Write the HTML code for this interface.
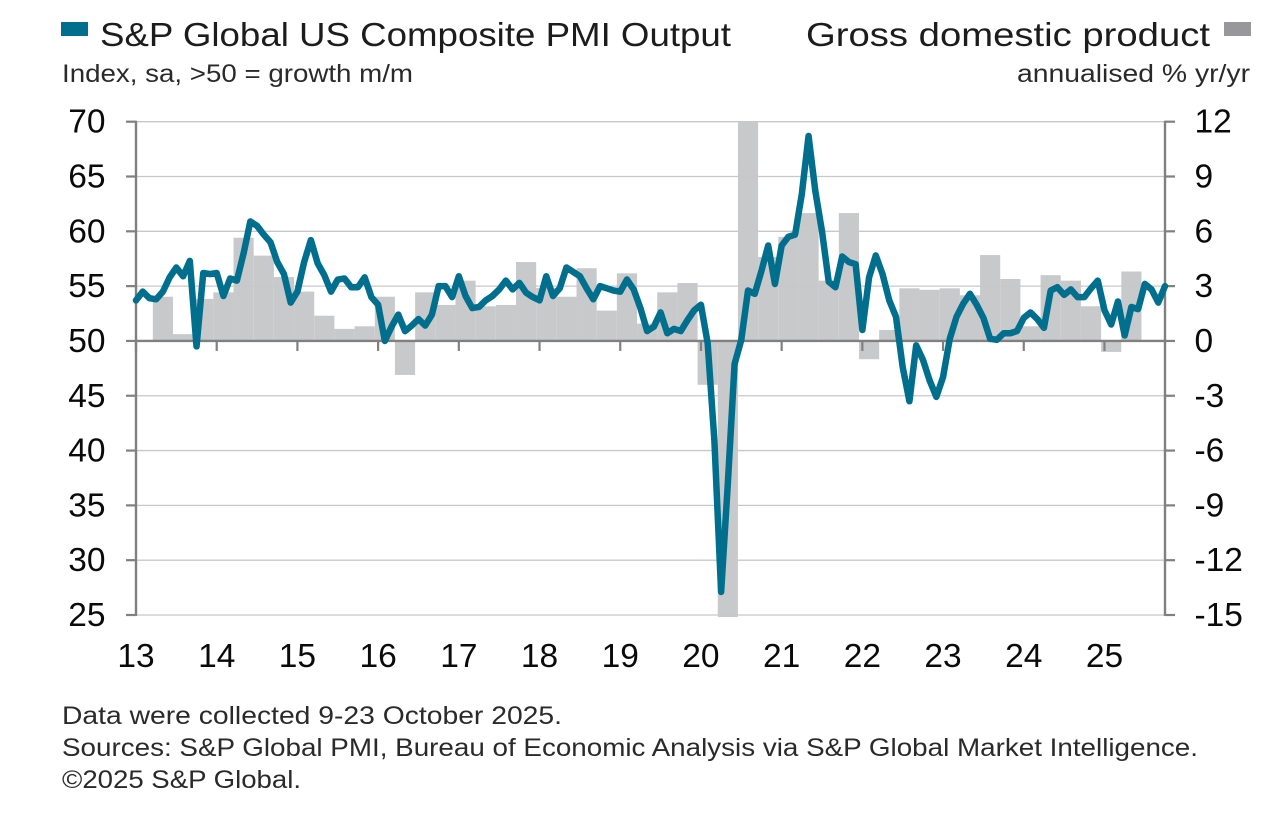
<!DOCTYPE html>
<html lang="en">
<head>
<meta charset="utf-8">
<title>S&amp;P Global US Composite PMI Output and GDP</title>
<style>
html,body{margin:0;padding:0;background:#fff;}
body{width:1286px;height:824px;overflow:hidden;}
svg{display:block;font-family:"Liberation Sans",sans-serif;}
.head{font-size:33px;fill:#1c1c1c;}
.sub{font-size:25px;fill:#2a2a2a;}
.tick{font-size:33.5px;fill:#0a0a0a;}
</style>
</head>
<body>
<svg id="chart" width="1286" height="824" viewBox="0 0 1286 824" xmlns="http://www.w3.org/2000/svg">
  <defs>
    <clipPath id="plot-clip"><rect x="130" y="121.5" width="1040" height="495.5"></rect></clipPath>
  </defs>
  <rect x="61" y="22" width="27" height="14" fill="#006f8e"></rect>
  <text class="head" x="100" y="46" textLength="631" lengthAdjust="spacingAndGlyphs">S&amp;P Global US Composite PMI Output</text>
  <text class="sub" x="62" y="82" textLength="351" lengthAdjust="spacingAndGlyphs">Index, sa, &gt;50 = growth m/m</text>
  <text class="head" x="806" y="46" textLength="404" lengthAdjust="spacingAndGlyphs">Gross domestic product</text>
  <rect x="1224" y="22" width="27" height="14" fill="#98989b"></rect>
  <text class="sub" x="1017" y="82" textLength="233" lengthAdjust="spacingAndGlyphs">annualised % yr/yr</text>
  <g id="bars"></g>
  <g id="grid"></g>
  <g id="axes"></g>
  <g id="series"></g>
  <g id="labels"></g>
  <text class="sub" x="62" y="724" textLength="500" lengthAdjust="spacingAndGlyphs">Data were collected 9-23 October 2025.</text>
  <text class="sub" x="62" y="756" textLength="1136" lengthAdjust="spacingAndGlyphs">Sources: S&amp;P Global PMI, Bureau of Economic Analysis via S&amp;P Global Market Intelligence.</text>
  <text class="sub" x="62" y="788" textLength="239" lengthAdjust="spacingAndGlyphs">©2025 S&amp;P Global.</text>
</svg>
<script>
var pmiValues = [
  53.7,54.5,53.9,53.8,54.5,55.8,56.7,55.9,57.3,49.5,56.2,56.1,
  56.2,54.1,55.7,55.5,58.0,60.9,60.5,59.7,59.0,57.2,56.1,53.5,
  54.5,57.2,59.2,57.1,56.0,54.5,55.6,55.7,54.9,54.9,55.8,54.0,
  53.3,50.0,51.3,52.4,50.9,51.4,52.0,51.4,52.4,55.0,55.0,54.0,
  55.9,54.1,53.0,53.1,53.7,54.1,54.7,55.5,54.7,55.3,54.4,54.0,
  53.7,55.9,54.1,54.8,56.7,56.3,55.9,54.8,53.8,55.0,54.8,54.6,
  54.5,55.6,54.7,53.0,50.9,51.3,52.6,50.7,51.1,50.9,51.9,52.8,
  53.3,49.8,40.9,27.1,37.0,47.9,50.1,54.6,54.3,56.4,58.7,55.2,
  58.7,59.5,59.7,63.4,68.7,63.7,60.0,55.4,54.9,57.7,57.2,57.0,
  51.0,55.8,57.8,56.1,53.7,52.2,47.6,44.5,49.6,48.3,46.4,44.9,
  46.7,50.2,52.2,53.4,54.3,53.3,52.1,50.2,50.1,50.7,50.7,50.9,
  52.1,52.6,52.0,51.2,54.6,54.9,54.2,54.7,54.0,54.0,54.8,55.5,
  52.8,51.5,53.6,50.5,53.1,52.9,55.2,54.7,53.5,55.0
];
var gdpValues = [
  null,2.42,0.37,2.3,
  2.66,5.65,4.67,3.5,
  2.7,1.38,0.66,0.8,
  2.42,-1.86,2.66,1.97,
  3.3,1.9,1.97,4.32,
  2.9,2.42,3.98,1.66,
  3.7,0.95,2.66,3.17,
  -2.4,-28,35,4.6,
  5.7,7.0,3.3,7.0,
  -1.0,0.6,2.88,2.8,
  2.88,2.5,4.7,3.39,
  0.8,3.6,3.3,1.9,
  -0.6,3.8
];
var yearLabels = ["13","14","15","16","17","18","19","20","21","22","23","24","25"];
var leftTicks = [70,65,60,55,50,45,40,35,30,25];
var rightTicks = [12,9,6,3,0,-3,-6,-9,-12,-15];

var NS = "http://www.w3.org/2000/svg";
var plotLeft = 136, plotRight = 1165, plotTop = 121.7, plotBottom = 615;
var monthStep = (plotRight - plotLeft) / 153;

function xMonth(i){ return plotLeft + i * monthStep; }
function yLeft(v){ return plotTop + (70 - v) * (plotBottom - plotTop) / 45; }
function yRight(v){ return plotTop + (12 - v) * (plotBottom - plotTop) / 27; }

function make(tag, attrs, parent){
  var el = document.createElementNS(NS, tag);
  for (var k in attrs) el.setAttribute(k, attrs[k]);
  parent.appendChild(el);
  return el;
}

var barsG = document.getElementById("bars");
var gridG = document.getElementById("grid");
var axesG = document.getElementById("axes");
var seriesG = document.getElementById("series");
var labelsG = document.getElementById("labels");
barsG.setAttribute("clip-path", "url(#plot-clip)");

/* GDP bars: quarterly, centred on the quarter's middle month */
gdpValues.forEach(function(v, q){
  if (v === null) return;
  var cx = xMonth(q * 3 + 1);
  var y0 = yRight(0), y1 = yRight(v);
  var bar = make("rect", {x: cx - 10.08, y: Math.min(y0, y1), width: 20.16, height: Math.abs(y1 - y0), fill: "#c8c9cb"}, barsG);
  
  
});

/* Horizontal gridlines */
leftTicks.forEach(function(t){
  if (t === 50) return;
  var g = make("line", {x1: plotLeft, x2: plotRight, y1: yLeft(t), y2: yLeft(t), stroke: "#c8c8ca", "stroke-width": 1.3}, gridG);
  
  
});

/* Axis lines */
var axisColor = "#808080";
var axisL = make("line", {x1: plotLeft, x2: plotLeft, y1: plotTop - 1, y2: plotBottom + 1, stroke: axisColor, "stroke-width": 2.4}, axesG);


var axisR = make("line", {x1: plotRight, x2: plotRight, y1: plotTop - 1, y2: plotBottom + 1, stroke: axisColor, "stroke-width": 2.4}, axesG);


var axisX = make("line", {x1: plotLeft, x2: plotRight, y1: yLeft(50), y2: yLeft(50), stroke: axisColor, "stroke-width": 2.4}, axesG);



leftTicks.forEach(function(t){
  var y = yLeft(t);
  var tick = make("line", {x1: plotLeft - 10, x2: plotLeft, y1: y, y2: y, stroke: axisColor, "stroke-width": 2.2}, axesG);
  
  
  var lab = make("text", {x: 105.5, y: y + 11, "text-anchor": "end", "class": "tick"}, labelsG);
  
  
  lab.textContent = String(t);
});

rightTicks.forEach(function(t){
  var y = yRight(t);
  var tick = make("line", {x1: plotRight, x2: plotRight + 10, y1: y, y2: y, stroke: axisColor, "stroke-width": 2.2}, axesG);
  
  
  var lab = make("text", {x: 1194.5, y: y + 11, "class": "tick"}, labelsG);
  
  
  lab.textContent = String(t);
});

yearLabels.forEach(function(lbl, n){
  var x = xMonth(n * 12);
  var tick = make("line", {x1: x, x2: x, y1: yLeft(50), y2: yLeft(50) + 10, stroke: axisColor, "stroke-width": 2.2}, axesG);
  
  
  var lab = make("text", {x: x, y: 667, "text-anchor": "middle", "class": "tick"}, labelsG);
  
  
  lab.textContent = lbl;
});

/* PMI line */
var d = pmiValues.map(function(v, i){
  return (i ? "L" : "M") + xMonth(i).toFixed(2) + " " + yLeft(v).toFixed(2);
}).join("");
var pmiLine = make("path", {d: d, fill: "none", stroke: "#006f8e", "stroke-width": 6.5, "stroke-linejoin": "round", "stroke-linecap": "round"}, seriesG);


</script>
</body>
</html>
